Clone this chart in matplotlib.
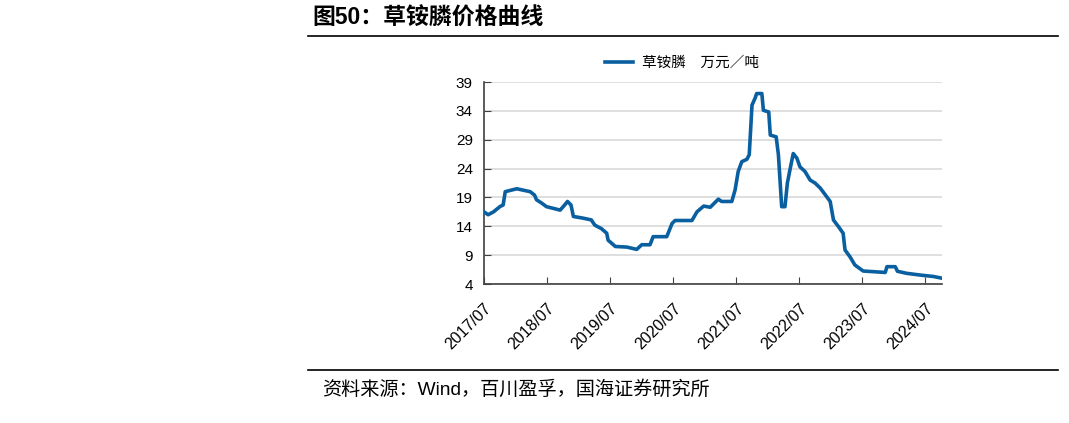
import matplotlib
matplotlib.use("Agg")
import matplotlib.pyplot as plt
import matplotlib.dates as mdates
import numpy as np

plt.rcParams["font.family"] = ["Liberation Sans", "Noto Sans CJK SC", "DejaVu Sans"]

# data: 草铵膦 price (万元/吨)
dates = [
    "2017-07-01", "2017-07-25", "2017-08-25", "2017-10-01", "2017-10-20", "2017-11-01",
    "2018-01-07", "2018-03-25", "2018-04-20", "2018-05-01", "2018-06-01", "2018-06-28",
    "2018-08-07", "2018-09-15", "2018-10-03", "2018-10-28", "2018-11-17", "2018-12-01",
    "2019-01-28", "2019-03-15", "2019-04-04", "2019-05-12", "2019-06-12", "2019-06-20",
    "2019-08-01", "2019-10-06", "2019-12-03", "2020-01-01", "2020-02-18", "2020-03-07",
    "2020-05-25", "2020-06-25", "2020-07-12", "2020-10-18", "2020-11-16", "2020-12-25",
    "2021-02-01", "2021-03-20", "2021-04-08", "2021-06-06", "2021-06-25", "2021-07-13",
    "2021-08-03", "2021-09-01", "2021-09-15", "2021-10-01", "2021-10-19", "2021-10-28",
    "2021-11-27", "2021-12-06", "2022-01-06", "2022-01-15", "2022-02-18", "2022-03-03",
    "2022-03-22", "2022-04-10", "2022-04-24", "2022-05-09", "2022-05-28", "2022-06-18",
    "2022-07-06", "2022-08-04", "2022-09-03", "2022-10-01", "2022-11-01", "2022-12-01",
    "2022-12-28", "2023-01-16", "2023-02-15", "2023-03-13", "2023-03-24", "2023-04-22",
    "2023-05-20", "2023-07-07", "2023-11-12", "2023-11-22", "2024-01-09", "2024-01-22",
    "2024-03-15", "2024-06-01", "2024-08-18", "2024-10-06",
]
prices = [
    16.5, 16.0, 16.5, 17.4, 17.7, 20.0,
    20.5, 20.0, 19.4, 18.6, 18.0, 17.4,
    17.1, 16.8, 17.4, 18.3, 17.7, 15.7,
    15.4, 15.1, 14.2, 13.6, 12.8, 11.6,
    10.5, 10.4, 10.0, 10.8, 10.8, 12.2,
    12.2, 14.5, 15.0, 15.0, 16.5, 17.5,
    17.3, 18.7, 18.3, 18.3, 20.3, 23.5,
    25.2, 25.6, 26.4, 35.0, 36.2, 37.0,
    37.0, 34.1, 33.8, 29.8, 29.5, 26.4,
    17.4, 17.4, 21.5, 23.8, 26.6, 25.8,
    24.3, 23.5, 22.0, 21.5, 20.6, 19.4,
    18.3, 15.1, 13.9, 12.8, 9.9, 8.7,
    7.3, 6.25, 6.0, 7.0, 7.0, 6.2,
    5.85, 5.55, 5.3, 5.0,
]
yticks = [4, 9, 14, 19, 24, 29, 34, 39]
xtick_years = list(range(2017, 2025))

x = np.array(dates, dtype="datetime64[D]")

fig = plt.figure(figsize=(10.69, 4.23), dpi=100)
ax = fig.add_axes([484 / 1069, 1 - 284 / 423, 458 / 1069, 202 / 423])

ax.plot(x, prices, color="#0a5fa0", lw=2.6, solid_joinstyle="round",
        label="草铵膦　万元／吨", zorder=3)

ax.set_ylim(4, 39)
ax.set_yticks(yticks)
ax.set_xlim(np.datetime64("2017-07-01"), np.datetime64("2024-10-06"))
ax.set_xticks([np.datetime64(f"{y}-07-01") for y in xtick_years])
ax.xaxis.set_major_formatter(mdates.DateFormatter("%Y/%m"))

ax.grid(axis="y", color="#d9d9d9", lw=1.2)
ax.set_axisbelow(True)
for s in ["top", "right"]:
    ax.spines[s].set_visible(False)
for s in ["left", "bottom"]:
    ax.spines[s].set_color("#404040")
    ax.spines[s].set_linewidth(1.2)

ax.tick_params(axis="y", direction="in", length=5, color="#404040", labelsize=11, pad=8)
ax.tick_params(axis="x", direction="in", length=5, color="#404040", labelsize=11.5, pad=12)
for lbl in ax.get_xticklabels():
    lbl.set_rotation(45)
    lbl.set_ha("right")
    lbl.set_rotation_mode("anchor")

leg = ax.legend(loc="lower center", bbox_to_anchor=(0.432, 1.03), frameon=False,
                prop={"family": "Noto Sans CJK SC", "size": 10.5},
                handlelength=1.9, handletextpad=0.6, borderaxespad=0)

# title, rules and source
fig.text(312 / 1069, 1 - 18 / 423, "图50：草铵膦价格曲线", fontsize=16.5, fontweight="bold",
         va="center", ha="left", family=["Liberation Sans", "Noto Sans CJK SC"])
fig.add_artist(plt.Line2D([308 / 1069, 1058 / 1069], [1 - 36 / 423] * 2, color="black", lw=1.2))
fig.add_artist(plt.Line2D([308 / 1069, 1058 / 1069], [1 - 370 / 423] * 2, color="black", lw=1.2))
fig.text(322 / 1069, 1 - 390 / 423, "资料来源：Wind，百川盈孚，国海证券研究所", fontsize=13.8,
         va="center", ha="left", family=["Liberation Sans", "Noto Sans CJK SC"])

fig.savefig("out.png", dpi=100, facecolor="white")
